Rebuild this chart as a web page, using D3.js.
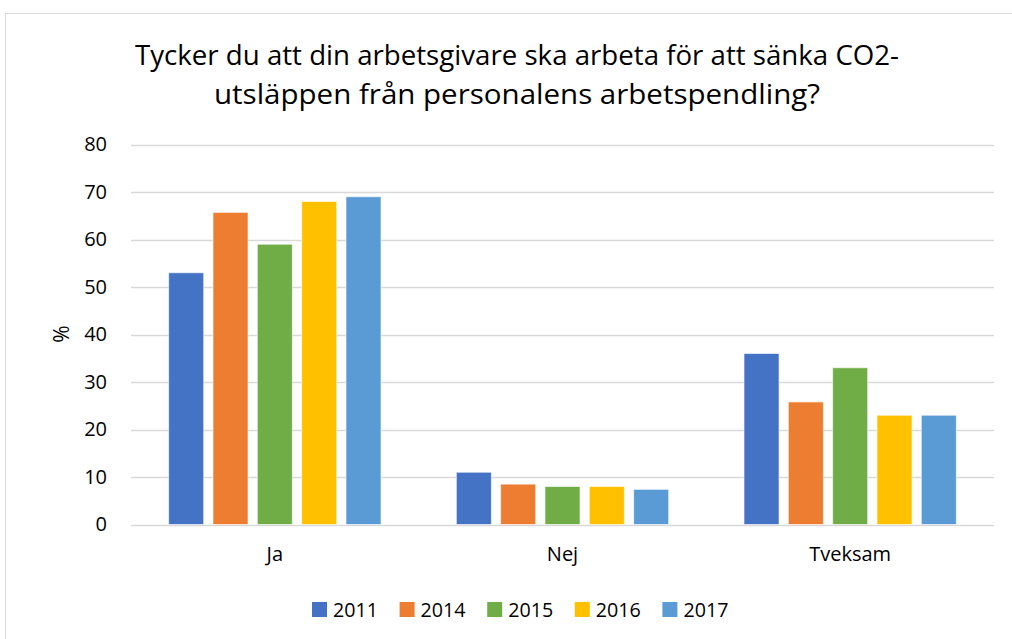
<!DOCTYPE html>
<html>
<head>
<meta charset="utf-8">
<script src="https://cdn.jsdelivr.net/npm/d3@7"></script>
<style>
  body { margin: 0; background: #fff; }
  text { font-family: "Open Sans", "Noto Sans", sans-serif; fill: #000; }
</style>
</head>
<body>
<div id="chart"></div>
<script>
var categories = ["Ja", "Nej", "Tveksam"];
var years = ["2011", "2014", "2015", "2016", "2017"];
var values = {
  "2011": [53, 11, 36],
  "2014": [65.7, 8.5, 25.8],
  "2015": [59, 8, 33],
  "2016": [68, 8, 23],
  "2017": [69, 7.4, 23]
};
var colors = ["#4472c4", "#ed7d31", "#70ad47", "#ffc000", "#5b9bd5"];
var yTicks = [0, 10, 20, 30, 40, 50, 60, 70, 80];
var titleLines = ["Tycker du att din arbetsgivare ska arbeta för att sänka CO2-",
                  "utsläppen från personalens arbetspendling?"];

var width = 1012, height = 639;
var plotL = 131, plotR = 994, plotT = 144.5, plotB = 524.5;

var svg = d3.select("#chart").append("svg")
  .attr("width", width)
  .attr("height", height);

// chart frame
svg.append("rect")
  .attr("x", 5.5).attr("y", 13.5)
  .attr("width", 1012).attr("height", 640)
  .attr("fill", "none")
  .attr("stroke", "#d9d9d9");

var x0 = d3.scaleBand().domain(categories).range([plotL, plotR]);
var x1 = d3.scaleBand().domain(years).range([0, x0.bandwidth()])
  .paddingInner(0.21).paddingOuter(0.85);
var y = d3.scaleLinear().domain([0, 80]).range([plotB, plotT]);

// gridlines
svg.append("g").selectAll("line").data(yTicks).enter().append("line")
  .attr("x1", plotL).attr("x2", plotR)
  .attr("y1", function(d){ return Math.round(y(d)) + 0.5; })
  .attr("y2", function(d){ return Math.round(y(d)) + 0.5; })
  .attr("stroke", "#d9d9d9")
  .attr("stroke-width", 1.3);

// y axis labels
var yAxis = d3.axisLeft(y).tickValues(yTicks).tickSize(0).tickPadding(0);
var ga = svg.append("g").attr("transform", "translate(107,0)").call(yAxis);
ga.select(".domain").remove();
ga.selectAll("text")
  .style("font-family", "'Open Sans', sans-serif")
  .attr("font-size", 20)
  .attr("fill", "#000");

// bars
var rows = [];
years.forEach(function(yr, i){
  categories.forEach(function(c, j){
    rows.push({cat: c, year: yr, v: values[yr][j], col: colors[i]});
  });
});
svg.append("g").selectAll("rect").data(rows).enter().append("rect")
  .attr("x", function(d){ return x0(d.cat) + x1(d.year); })
  .attr("y", function(d){ return y(d.v); })
  .attr("width", x1.bandwidth())
  .attr("height", function(d){ return y(0) - y(d.v); })
  .attr("fill", function(d){ return d.col; })
  .attr("stroke", "#fff")
  .attr("stroke-opacity", 0.6)
  .attr("stroke-width", 1);

// x axis labels
var xAxis = d3.axisBottom(x0).tickSize(0).tickPadding(0);
var gx = svg.append("g").attr("transform", "translate(0,547)").call(xAxis);
gx.select(".domain").remove();
gx.selectAll("text")
  .style("font-family", "'Open Sans', sans-serif")
  .attr("font-size", 20)
  .attr("fill", "#000");

// y title
svg.append("text")
  .attr("transform", "translate(69,334) rotate(-90)")
  .attr("text-anchor", "middle")
  .attr("font-size", 21)
  .text("%");

// title
svg.append("g").selectAll("text").data(titleLines).enter().append("text")
  .attr("x", 517)
  .attr("y", function(d, i){ return 65 + i * 39; })
  .attr("text-anchor", "middle")
  .attr("font-size", 28)
  .attr("textLength", function(d, i){ return i === 0 ? 764 : 606; })
  .attr("lengthAdjust", "spacingAndGlyphs")
  .text(function(d){ return d; });

// legend
var leg = svg.append("g").selectAll("g").data(years).enter().append("g")
  .attr("transform", function(d, i){ return "translate(" + (312 + i * 87.6) + ",602)"; });
leg.append("rect")
  .attr("width", 15).attr("height", 15)
  .attr("fill", function(d, i){ return colors[i]; });
leg.append("text")
  .attr("x", 21).attr("y", 15)
  .attr("font-size", 20)
  .attr("textLength", 45)
  .attr("lengthAdjust", "spacingAndGlyphs")
  .text(function(d){ return d; });
</script>
</body>
</html>
